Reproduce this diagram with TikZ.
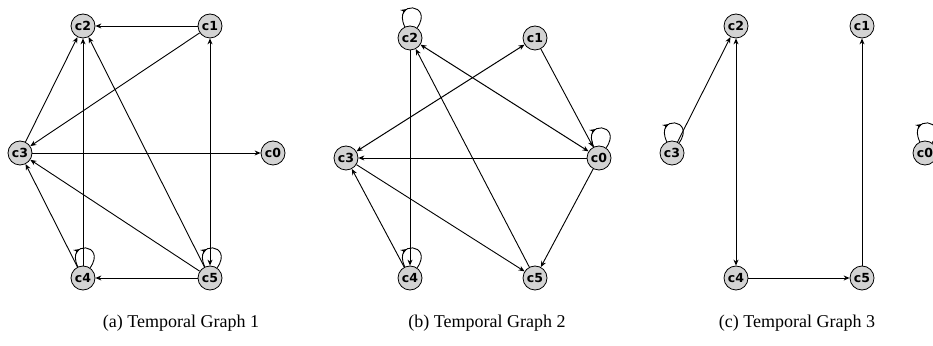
\documentclass[tikz,border=0pt]{standalone}
\usepackage{fontspec}
\setmainfont{Liberation Serif}
\newfontfamily\vertexfont{DejaVu Sans}
\usetikzlibrary{arrows.meta, decorations.markings}
\definecolor{vertexgray}{HTML}{D3D3D3}

\begin{document}
\begin{tikzpicture}[
      x=1pt, y=1pt,
      vertex/.style={circle, draw, line width=0.8pt, fill=vertexgray, minimum size=24pt, inner sep=0pt,
        font=\vertexfont\bfseries\fontsize{12.5}{12.5}\selectfont},
      edge/.style={-{Stealth[length=6pt,width=5pt]}, line width=0.9pt},
      twoway/.style={{Stealth[length=6pt,width=5pt]}-{Stealth[length=6pt,width=5pt]}, line width=1pt},
      selfloop/.style={out=115, in=55, min distance=30pt, looseness=1, line width=0.9pt,
        postaction={decorate}, decoration={markings,
          mark=at position 0.38 with {\arrow{Stealth[length=6pt,width=5pt]}}}},
      caption/.style={font=\fontsize{18}{21}\selectfont}
    ]
      \useasboundingbox (0,0) rectangle (933,345);
      % Temporal graph 1
      \node[vertex] (g1c2) at (83,319) {c2};
      \node[vertex] (g1c1) at (210,319) {c1};
      \node[vertex] (g1c3) at (20,192) {c3};
      \node[vertex] (g1c0) at (273,192) {c0};
      \node[vertex] (g1c4) at (83,67) {c4};
      \node[vertex] (g1c5) at (210,67) {c5};
      \draw[edge] (g1c1) -- (g1c2);
      \draw[edge] (g1c1) -- (g1c3);
      \draw[edge] (g1c3) -- (g1c2);
      \draw[edge] (g1c4) -- (g1c2);
      \draw[edge] (g1c5) -- (g1c2);
      \draw[edge] (g1c3) -- (g1c0);
      \draw[twoway] (g1c1) -- (g1c5);
      \draw[edge] (g1c4) -- (g1c3);
      \draw[edge] (g1c5) -- (g1c3);
      \draw[edge] (g1c5) -- (g1c4);
      \draw[selfloop] (g1c4) to (g1c4);
      \draw[selfloop] (g1c5) to (g1c5);
      % Temporal graph 2
      \node[vertex] (g2c2) at (410,307) {c2};
      \node[vertex] (g2c1) at (535,307) {c1};
      \node[vertex] (g2c3) at (346,187) {c3};
      \node[vertex] (g2c0) at (599,187) {c0};
      \node[vertex] (g2c4) at (410,67) {c4};
      \node[vertex] (g2c5) at (535,67) {c5};
      \draw[twoway] (g2c2) -- (g2c0);
      \draw[twoway] (g2c1) -- (g2c3);
      \draw[edge] (g2c1) -- (g2c0);
      \draw[edge] (g2c0) -- (g2c3);
      \draw[edge] (g2c0) -- (g2c5);
      \draw[edge] (g2c2) -- (g2c4);
      \draw[edge] (g2c5) -- (g2c2);
      \draw[edge] (g2c4) -- (g2c3);
      \draw[edge] (g2c3) -- (g2c5);
      \draw[selfloop] (g2c2) to (g2c2);
      \draw[selfloop] (g2c0) to (g2c0);
      \draw[selfloop] (g2c4) to (g2c4);
      % Temporal graph 3
      \node[vertex] (g3c2) at (736,319) {c2};
      \node[vertex] (g3c1) at (862,319) {c1};
      \node[vertex] (g3c3) at (672,192) {c3};
      \node[vertex] (g3c0) at (925,192) {c0};
      \node[vertex] (g3c4) at (736,67) {c4};
      \node[vertex] (g3c5) at (862,67) {c5};
      \draw[edge] (g3c3) -- (g3c2);
      \draw[twoway] (g3c2) -- (g3c4);
      \draw[edge] (g3c4) -- (g3c5);
      \draw[edge] (g3c5) -- (g3c1);
      \draw[selfloop] (g3c3) to (g3c3);
      \draw[selfloop] (g3c0) to (g3c0);
      % captions
      \node[caption] (cap1) at (181,22) {(a) Temporal Graph 1};
      \node[caption] (cap2) at (487,22) {(b) Temporal Graph 2};
      \node[caption] (cap3) at (797,22) {(c) Temporal Graph 3};
    \end{tikzpicture}
\end{document}
